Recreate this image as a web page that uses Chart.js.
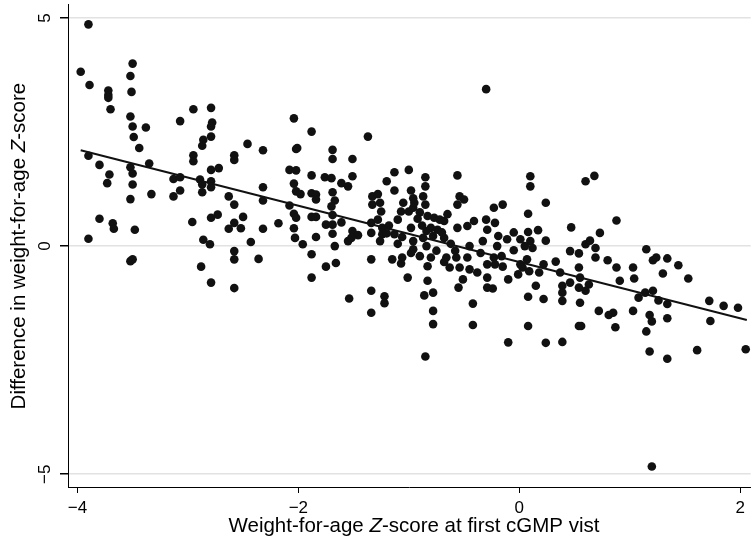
<!DOCTYPE html>
<html>
<head>
<meta charset="utf-8">
<script src="https://cdn.jsdelivr.net/npm/chart.js@4/dist/chart.umd.min.js"></script>
<style>
body { margin: 0; background: #fff; }
#wrap { width: 755px; height: 540px; }
</style>
</head>
<body>
<div id="wrap"><canvas id="chart" width="755" height="540"></canvas></div>
<script>
// tick positions
var xTicks = [-4, -2, 0, 2];
var yTicks = [-5, 0, 5];

// fitted line end points
var fitX = [-3.97, 2.06];
var fitY = [2.10, -1.62];

// weight-for-age Z-score at first visit
var baseZ = [
  -3.90,-3.97,-3.89,-3.72,-3.72,-3.72,-3.70,-3.50,-3.52,-3.51,-3.52,-3.50,-3.49,-3.38,-3.44,-3.07,
  -3.90,-3.80,-3.71,-3.73,-3.52,-3.50,-3.50,-3.52,-3.35,-3.33,-3.13,-3.07,-3.07,-3.13,-3.80,-3.68,
  -3.67,-3.48,-3.90,-3.52,-3.50,
  -2.95,-2.79,-2.78,-2.79,-2.79,-2.86,-2.87,-2.95,-2.95,-2.58,-2.58,-2.46,-2.32,-2.04,-2.02,-2.79,
  -2.72,-2.89,-2.87,-2.79,-2.79,-2.87,-2.32,-2.32,-2.63,-2.58,-2.08,-2.02,-2.04,-2.02,-2.08,-2.04,
  -2.02,-2.96,-2.79,-2.73,-2.50,-2.58,-2.63,-2.52,-2.32,-2.18,-2.04,-2.43,-2.86,-2.80,-2.58,-2.58,
  -2.36,-2.88,-2.79,-2.58,
  -1.88,-2.01,-1.37,-1.69,-1.69,-1.51,-1.88,-1.76,-1.70,-1.51,-1.61,-1.55,-1.98,-1.88,-1.84,-1.84,
  -1.69,-1.67,-1.70,-1.88,-1.84,-1.69,-1.61,-1.75,-1.69,-2.03,-1.96,-1.84,-1.69,-1.67,-1.55,-1.51,
  -1.46,-1.52,-1.88,-1.75,-1.66,-1.88,-1.54,-1.34,-1.34,-1.22,-1.22,-1.34,-1.34,-1.34,-1.33,-1.28,
  -1.33,-1.26,-1.25,-1.28,-1.24,-1.24,-1.26,-1.20,-1.20,-1.13,-1.13,-1.00,-0.98,-1.07,-1.10,-1.13,
  -1.06,-1.00,-0.98,-1.15,-1.07,-1.06,-1.01,
  -0.30,-0.85,-0.85,-0.96,-0.87,-0.85,-0.56,-0.54,-0.50,-0.56,-0.96,-0.90,-0.83,-0.77,-0.72,-0.68,
  -0.84,-0.74,-0.96,-0.87,-0.78,-0.68,-0.56,-0.47,-0.41,-0.30,-0.23,-0.15,-0.22,-0.29,-0.33,-0.19,
  -0.11,0.01,-0.05,-0.96,-0.84,-0.90,-0.80,-0.83,-0.66,-0.57,-0.47,-0.63,-0.54,-0.45,-0.38,-0.29,
  -0.23,-0.16,-0.29,-0.22,-0.29,-0.24,-0.51,-0.55,-0.83,-0.86,-0.78,-0.78,-0.78,-0.42,-0.42,-0.10,
  -0.01,0.01,-0.10,-0.85,
  -1.05,-0.95,-0.92,-0.88,-0.80,-0.70,-0.62,-0.75,-0.68,-0.58,-0.35,-0.45,-0.20,-0.15,-0.05,0.05,
  -0.98,-1.10,-1.18,-0.65,
  0.10,0.10,0.60,0.68,0.24,0.08,0.47,0.88,0.08,0.17,0.24,0.10,0.12,0.60,0.64,0.69,
  0.73,0.46,0.54,0.69,0.80,0.88,1.03,1.04,0.07,0.03,0.09,0.18,0.22,0.33,0.37,0.54,
  0.55,0.63,0.46,0.39,0.39,0.54,0.60,0.55,0.39,0.15,0.08,0.22,0.72,0.81,0.85,0.91,
  1.03,1.08,0.87,0.54,0.56,0.08,0.24,0.39,
  1.15,1.21,1.24,1.34,1.44,1.30,1.53,1.14,1.21,1.26,1.34,1.18,1.20,1.34,1.15,1.72,
  1.73,1.85,1.98,1.18,1.34,1.61,2.05,1.20
];

// difference in weight-for-age Z-score
var diffZ = [
  4.86,3.82,3.53,3.41,3.31,3.25,3.00,4.00,3.73,3.38,2.84,2.62,2.39,2.60,2.15,2.74,
  1.98,1.78,1.57,1.38,1.73,1.59,1.35,1.03,1.81,1.14,1.47,1.51,1.22,1.09,0.60,0.50,
  0.38,0.36,0.16,-0.33,-0.29,
  3.00,3.03,2.71,2.62,2.40,2.33,2.20,1.99,1.86,1.99,1.89,2.24,2.10,2.80,2.13,1.67,
  1.71,1.46,1.35,1.42,1.29,1.18,1.29,1.00,1.09,0.91,1.67,1.66,1.37,1.20,0.89,0.71,
  0.62,0.53,0.62,0.69,0.64,0.51,0.38,0.39,0.38,0.50,0.39,0.09,0.14,0.04,-0.11,-0.29,
  -0.28,-0.45,-0.80,-0.92,
  2.51,2.15,2.40,2.11,1.91,1.91,1.55,1.51,1.49,1.53,1.38,1.31,1.14,1.16,1.13,1.02,
  1.18,1.00,0.87,0.64,0.64,0.68,0.52,0.47,0.47,0.18,0.04,0.20,0.27,0.00,0.11,0.33,
  0.24,0.18,-0.18,-0.45,-0.37,-0.69,-1.15,-0.98,-1.46,-1.10,-1.25,-0.29,0.29,0.51,1.09,1.14,
  0.91,0.95,0.76,0.58,0.40,0.26,0.11,0.28,1.42,1.62,1.22,1.67,1.22,0.76,0.58,0.26,
  0.20,0.76,0.40,-0.29,-0.38,-0.25,-0.69,
  3.44,1.51,1.31,1.05,1.09,0.91,1.55,1.09,1.02,0.91,0.84,0.74,0.66,0.62,0.58,0.55,
  0.33,0.36,0.11,0.18,0.22,0.18,0.40,0.44,0.55,0.58,0.84,0.91,0.51,0.36,0.11,0.22,
  0.15,0.15,-0.09,-0.07,0.00,-0.22,-0.25,-0.44,-0.25,-0.25,-0.25,-0.47,-0.47,-0.51,-0.58,-0.40,
  -0.25,-0.22,-0.69,-0.40,-0.91,-0.93,-0.73,-0.91,-0.76,-1.08,-1.02,-1.42,-1.71,-1.26,-1.73,-0.73,
  -0.62,-0.40,-2.11,-2.42,
  0.95,0.95,0.60,0.45,0.40,0.30,0.05,-0.10,-0.35,-0.10,-0.15,0.00,0.00,-0.45,0.30,0.00,
  -0.15,0.05,0.45,0.70,
  1.53,1.31,1.42,1.54,0.95,0.71,0.41,0.56,0.31,0.35,0.12,0.11,-0.04,0.04,0.12,-0.04,
  0.29,-0.11,-0.16,-0.25,-0.31,-0.47,-0.47,-0.71,-0.29,-0.47,-0.55,-0.58,-0.40,-0.34,-0.58,-0.47,
  -0.69,-0.84,-0.80,-0.87,-1.02,-0.91,-0.98,-1.24,-1.20,-0.87,-1.11,-1.16,-1.42,-1.51,-1.46,-0.76,
  -1.42,-1.13,-1.78,-1.75,-1.75,-1.75,-2.12,-2.10,
  -0.07,-0.31,-0.25,-0.27,-0.42,-0.60,-0.71,-1.02,-0.98,-1.19,-1.27,-1.51,-1.65,-1.58,-1.87,-1.20,
  -1.64,-1.31,-1.35,-2.31,-2.47,-2.28,-2.26,-4.83
];

var FONT = '"Liberation Sans", Arial, Helvetica, sans-serif';

function minus(v) {
    return String(v).replace('-', '\u2212');
}

var scatterPts = baseZ.map(function(v, i) { return {x: v, y: diffZ[i]}; });
var fitPts = fitX.map(function(v, i) { return {x: v, y: fitY[i]}; });

// draws the rotated y tick labels and both axis titles (with italic Z)
var textPlugin = {
    id: 'stataText',
    afterDraw: function(chart) {
        var ctx = chart.ctx;
        var ys = chart.scales.y;
        ctx.save();
        ctx.fillStyle = '#000';
        ctx.textBaseline = 'middle';
        ctx.textAlign = 'center';
        ctx.font = '17px ' + FONT;
        yTicks.forEach(function(v) {
            ctx.save();
            ctx.translate(45, ys.getPixelForValue(v));
            ctx.rotate(-Math.PI / 2);
            ctx.fillText(minus(v), 0, 0);
            ctx.restore();
        });

        function mixed(parts, cx, cy) {
            var total = 0;
            parts.forEach(function(p) {
                ctx.font = (p[1] ? 'italic ' : '') + '20.5px ' + FONT;
                total += ctx.measureText(p[0]).width;
            });
            var x = cx - total / 2;
            ctx.textAlign = 'left';
            parts.forEach(function(p) {
                ctx.font = (p[1] ? 'italic ' : '') + '20.5px ' + FONT;
                ctx.fillText(p[0], x, cy);
                x += ctx.measureText(p[0]).width;
            });
        }

        mixed([['Weight-for-age ', false], ['Z', true], ['-score at first cGMP vist', false]],
              414, 526);

        ctx.save();
        ctx.translate(19, ys.getPixelForValue(0));
        ctx.rotate(-Math.PI / 2);
        mixed([['Difference in weight-for-age ', false], ['Z', true], ['-score', false]], 0, 0);
        ctx.restore();
        ctx.restore();
    }
};

new Chart(document.getElementById('chart'), {
    type: 'scatter',
    data: {
        datasets: [{
            data: scatterPts,
            pointRadius: 4.3,
            pointBackgroundColor: '#111',
            pointBorderWidth: 0,
            order: 2
        }, {
            data: fitPts,
            showLine: true,
            borderColor: '#111',
            borderWidth: 2,
            pointRadius: 0,
            order: 1
        }]
    },
    options: {
        responsive: false,
        animation: false,
        layout: { padding: { top: 2, right: 0, left: 0, bottom: 0 } },
        plugins: {
            legend: { display: false },
            tooltip: { enabled: false }
        },
        scales: {
            x: {
                type: 'linear',
                min: -4.085,
                max: 2.095,
                afterBuildTicks: function(scale) {
                    scale.ticks = xTicks.map(function(v) { return {value: v}; });
                },
                afterFit: function(scale) { scale.height = 53; },
                grid: {
                    drawOnChartArea: false,
                    tickLength: 6,
                    tickColor: '#000',
                    color: '#000'
                },
                border: { display: true, color: '#000', width: 1 },
                ticks: {
                    padding: 5,
                    color: '#000',
                    font: { family: FONT, size: 17 },
                    callback: function(v) { return minus(v); }
                }
            },
            y: {
                type: 'linear',
                min: -5.28,
                max: 5.3,
                afterBuildTicks: function(scale) {
                    scale.ticks = yTicks.map(function(v) { return {value: v}; });
                },
                afterFit: function(scale) { scale.width = 68; },
                grid: {
                    color: '#e2e2e2',
                    lineWidth: 1.5,
                    tickLength: 8,
                    tickColor: '#000'
                },
                border: { display: true, color: '#000', width: 1 },
                ticks: { display: false }
            }
        }
    },
    plugins: [textPlugin]
});
</script>
</body>
</html>
